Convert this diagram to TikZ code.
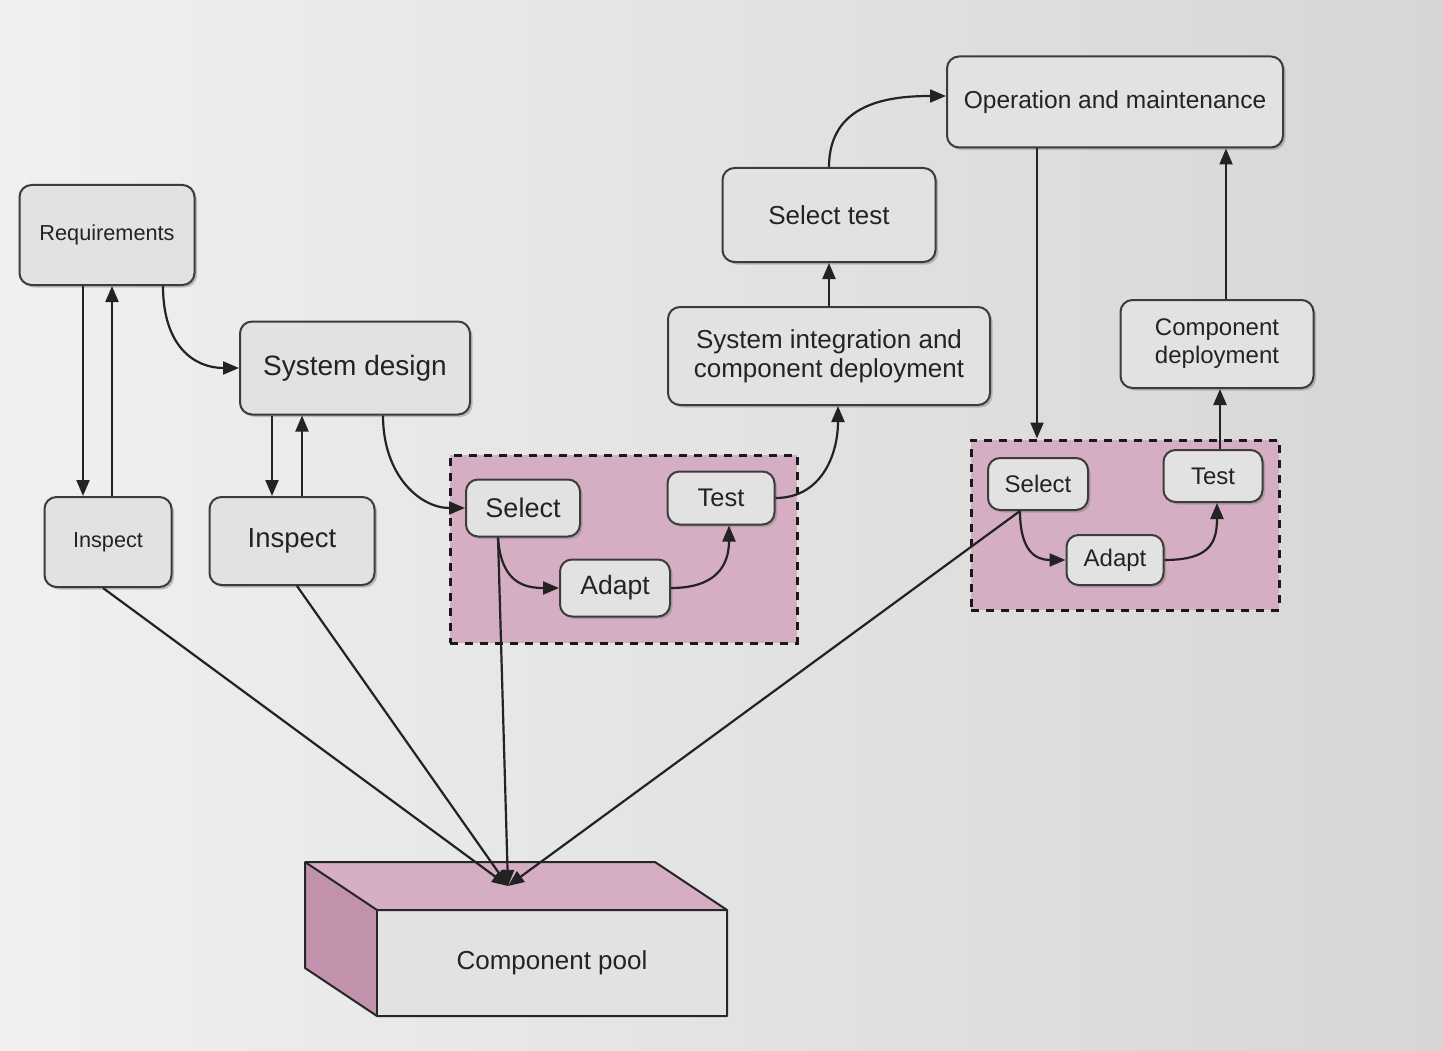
\documentclass[tikz,border=0pt]{standalone}
\usepackage{fontspec}
\setmainfont{Liberation Sans}
\usetikzlibrary{arrows.meta,shadows}
\definecolor{boxfill}{RGB}{226,226,226}
\definecolor{boxline}{RGB}{60,60,60}
\definecolor{ink}{RGB}{35,35,35}
\definecolor{pinkfill}{RGB}{214,174,196}
\definecolor{pinkdark}{RGB}{194,146,172}
\definecolor{bgl}{RGB}{240,240,240}
\definecolor{bgr}{RGB}{214,214,214}
\begin{document}
\begin{tikzpicture}[x=1pt,y=-1pt,
  fsz/.style 2 args={font=\fontsize{#1}{#2}\selectfont},
  box/.style={draw=boxline, line width=2pt, rounded corners=12pt, fill=boxfill,
    text=ink, align=center, inner sep=0pt,
    drop shadow={shadow xshift=2.5pt,shadow yshift=-2.5pt,opacity=0.45}},
  region/.style={draw=black!90, dash pattern=on 8pt off 7pt, line width=3pt,
    fill=pinkfill, inner sep=0pt},
  arr/.style={draw=ink, line width=2.2pt, -{Triangle[length=16pt,width=13pt]}},
  edge/.style={draw=black!85, line width=2pt, line join=round}
]
\useasboundingbox (0,0) rectangle (1443,1051);
\shade[left color=bgl, right color=bgr] (0,0) rectangle (1443,1051);

% dashed regions
\node[region, minimum width=347pt, minimum height=188pt] (regL) at (623.5,549) {};
\node[region, minimum width=308pt, minimum height=170pt] (regR) at (1125,525) {};

% nodes
\node[box, fsz={21.7}{25}, minimum width=175pt, minimum height=100pt] (req) at (107,235) {Requirements};
\node[box, fsz={28}{32}, minimum width=230pt, minimum height=93pt] (sd) at (355,368) {System design};
\node[box, fsz={21.7}{25}, minimum width=127pt, minimum height=90pt] (il) at (108,542) {Inspect};
\node[box, fsz={27.5}{31}, minimum width=165pt, minimum height=88pt] (ir) at (292,541) {Inspect};
\node[box, fsz={27}{31}, minimum width=114pt, minimum height=57pt] (sl) at (523,508) {Select};
\node[box, fsz={25.5}{29}, minimum width=107pt, minimum height=53pt] (tl) at (721,498) {Test};
\node[box, fsz={26.5}{30}, minimum width=110pt, minimum height=57pt] (al) at (615,588) {Adapt};
\node[box, fsz={26}{29}, minimum width=322pt, minimum height=98pt] (si) at (829,356) {System integration and\\component deployment};
\node[box, fsz={26}{30}, minimum width=213pt, minimum height=94pt] (st) at (829,215) {Select test};
\node[box, fsz={24.5}{28}, minimum width=336pt, minimum height=91pt] (om) at (1115,102) {Operation and maintenance};
\node[box, fsz={24}{28}, minimum width=193pt, minimum height=88pt] (cd) at (1217,344) {Component\\deployment};
\node[box, fsz={24}{28}, minimum width=100pt, minimum height=52pt] (sr) at (1038,484) {Select};
\node[box, fsz={24}{28}, minimum width=99pt, minimum height=52pt] (tr) at (1213,476) {Test};
\node[box, fsz={24}{28}, minimum width=97pt, minimum height=50pt] (ar) at (1115,560) {Adapt};

% component pool (3D box)
\coordinate (B1) at (305,862);
\coordinate (B2) at (655,862);
\coordinate (F1) at (377,910);
\coordinate (F2) at (727,910);
\coordinate (F3) at (727,1016);
\coordinate (F4) at (377,1016);
\coordinate (B4) at (305,968);
\fill[pinkfill] (B1) -- (B2) -- (F2) -- (F1) -- cycle;
\fill[pinkdark] (B1) -- (F1) -- (F4) -- (B4) -- cycle;
\fill[boxfill] (F1) -- (F2) -- (F3) -- (F4) -- cycle;
\draw[edge] (B1) -- (B2) -- (F2) -- (F3) -- (F4) -- (B4) -- cycle;
\draw[edge] (B1) -- (F1) -- (F2);
\draw[edge] (F1) -- (F4);
\node[fsz={26}{30}, text=ink] (pool) at (552,963) {Component pool};
\coordinate (pt) at (508,886);

% connectors
\draw[arr] ([xshift=-24pt]req.south) -- ([xshift=-24pt]req.south |- il.north);
\draw[arr] ([xshift=4pt]il.north) -- ([xshift=4pt]il.north |- req.south);
\draw[arr] ([xshift=56pt]req.south) .. controls +(0,60) and +(-45,0) .. (sd.west);
\draw[arr] ([xshift=-83pt]sd.south) -- ([xshift=-83pt]sd.south |- ir.north);
\draw[arr] ([xshift=10pt]ir.north) -- ([xshift=10pt]ir.north |- sd.south);
\draw[arr] ([xshift=28pt]sd.south) .. controls +(0,60) and +(-45,0) .. (sl.west);
\draw[arr] ([xshift=-25pt]sl.south) .. controls +(3,45) and +(-35,0) .. (al.west);
\draw[arr] (al.east) .. controls +(45,0) and +(0,40) .. ([xshift=8pt]tl.south);
\draw[arr] (tl.east) .. controls +(45,0) and +(0,50) .. ([xshift=9pt]si.south);
\draw[arr] (si.north) -- (st.south);
\draw[arr] (st.north) .. controls +(0,-65) and +(-55,0) .. ([yshift=6pt]om.west);
\draw[arr] ([xshift=-78pt]om.south) -- ([xshift=-78pt]om.south |- regR.north);
\draw[arr] ([xshift=-18pt]sr.south) .. controls +(0,40) and +(-30,0) .. (ar.west);
\draw[arr] (ar.east) .. controls +(45,0) and +(0,40) .. ([xshift=4pt]tr.south);
\draw[arr] ([xshift=7pt]tr.north) -- ([xshift=7pt]tr.north |- cd.south);
\draw[arr] ([xshift=9pt]cd.north) -- ([xshift=9pt]cd.north |- om.south);

% lines to the component pool
\draw[arr] ([xshift=-5pt]il.south) -- (pt);
\draw[arr] ([xshift=5pt]ir.south) -- (pt);
\draw[arr] ([xshift=-25pt]sl.south) -- (pt);
\draw[arr] ([xshift=-18pt]sr.south) -- (pt);
\end{tikzpicture}
\end{document}
